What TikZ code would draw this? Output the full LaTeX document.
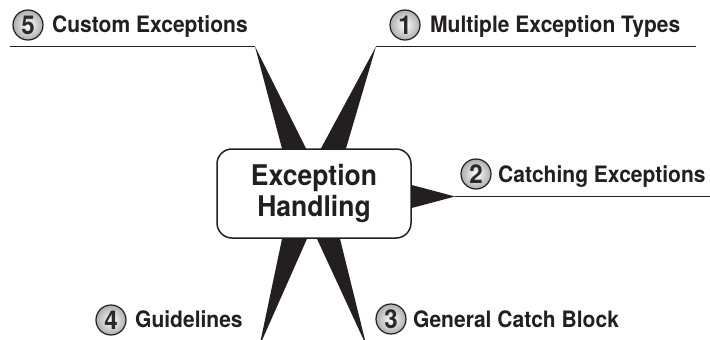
\documentclass[tikz,border=0pt]{standalone}
\usepackage{fontspec}
\setmainfont{TeX Gyre Heros}
\newfontfamily\narrowfont{TeX Gyre Heros}[FakeStretch=0.93]
\usetikzlibrary{calc}
\pgfdeclarelayer{bg}
\pgfdeclarelayer{paper}
\pgfsetlayers{paper,bg,main}
\definecolor{ink}{HTML}{231F20}
\definecolor{numink}{HTML}{2A2A2A}
\tikzset{
  spike/.style={fill=ink, draw=none},
  branchline/.style={draw=ink, line width=1.8pt},
  numcircle/.style={circle, draw=ink, line width=1.2pt, minimum size=30pt, inner sep=0pt,
    inner color=white, outer color=black!32, text=numink,
    font=\narrowfont\fontsize{26}{26}\selectfont\bfseries},
  branchtext/.style={anchor=base west, inner sep=0pt, text=ink,
    font=\narrowfont\fontsize{22.6}{22.6}\selectfont\bfseries},
  centerbox/.style={draw=ink, line width=1.5pt, rounded corners=15pt, fill=white,
    minimum width=194pt, minimum height=89pt, align=center, text=ink,
    font=\narrowfont\fontsize{28.5}{31}\selectfont\bfseries}
}
\begin{document}
\begin{tikzpicture}[x=1pt,y=-1pt]
\useasboundingbox (0,0) rectangle (710,340);
\begin{pgfonlayer}{paper}
  \fill[white] (0,0) rectangle (710,340);
\end{pgfonlayer}

% centre
\node[centerbox] (hub) at (314,193.5) {Exception\\Handling};

% branch end points
\coordinate (t5) at (255,46.5);
\coordinate (t1) at (376,46.5);
\coordinate (t2) at (455,196.5);
\coordinate (t3) at (366.5,346);
\coordinate (t4) at (259.5,346);
\coordinate (l5) at (10,46.5);
\coordinate (r1) at (696,46.5);
\coordinate (r2) at (712,196.5);

\begin{pgfonlayer}{bg}
  \fill[spike] (t5) -- ($(hub.north)+(-30.5,6)$) -- ($(hub.north)+(-5,6)$) -- cycle;
  \fill[spike] (t1) -- ($(hub.north)+(3.8,6)$) -- ($(hub.north)+(30.3,6)$) -- cycle;
  \fill[spike] (t2) -- ($(hub.east)+(-6,-10.1)$) -- ($(hub.east)+(-6,16.1)$) -- cycle;
  \fill[spike] (t4) -- ($(hub.south)+(-30.7,-6)$) -- ($(hub.south)+(-4.3,-6)$) -- cycle;
  \fill[spike] (t3) -- ($(hub.south)+(0.2,-6)$) -- ($(hub.south)+(24.5,-6)$) -- cycle;
\end{pgfonlayer}

\draw[branchline] (l5) -- (t5);
\draw[branchline] (t1) -- (r1);
\draw[branchline] (t2) -- (r2);

% labels
\node[numcircle] (n5) at (28,25) {5};
\node[branchtext] (c5) at (52,32) {Custom Exceptions};
\node[numcircle] (n1) at (405,25) {1};
\node[branchtext] (c1) at (430,32) {Multiple Exception Types};
\node[numcircle] (n2) at (476,174) {2};
\node[branchtext] (c2) at (498,182) {Catching Exceptions};
\node[numcircle] (n3) at (391,319) {3};
\node[branchtext] (c3) at (413,327) {General Catch Block};
\node[numcircle] (n4) at (111,320) {4};
\node[branchtext] (c4) at (135,327) {Guidelines};
\end{tikzpicture}
\end{document}
